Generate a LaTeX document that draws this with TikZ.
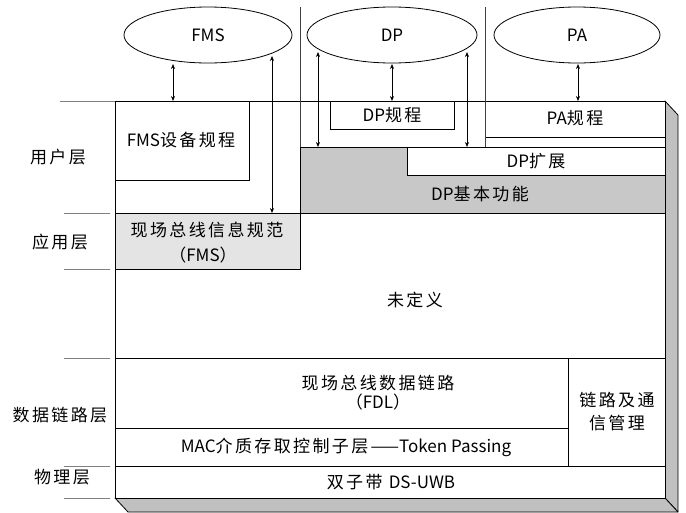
\documentclass[tikz,border=0pt]{standalone}
\usepackage{fontspec}
\setmainfont{Noto Sans CJK SC}[LetterSpace=14]
\newfontfamily\lat{Noto Sans CJK SC}
\usetikzlibrary{arrows.meta,shapes.geometric}
\definecolor{dpgray}{HTML}{C8C8C8}
\definecolor{specgray}{HTML}{E4E4E4}
\definecolor{sidegray}{HTML}{C0C0C0}
\definecolor{tickgray}{HTML}{808080}
\begin{document}
\begin{tikzpicture}[x=1pt,y=-1pt,
  box/.style={draw=black, line width=0.8pt, fill=white, anchor=north west, inner sep=0pt, outer sep=0pt},
  txt/.style={font=\fontsize{17}{22}\selectfont, text=black, inner sep=0pt, align=center},
  tick/.style={draw=tickgray, line width=0.9pt},
  vline/.style={draw=black!75, line width=0.8pt},
  arr/.style={{Stealth[length=5pt,width=4pt]}-{Stealth[length=5pt,width=4pt]}, line width=0.7pt},
  ell/.style={ellipse, draw=black, line width=0.8pt, inner sep=0pt, fill=white, font=\fontsize{17}{22}\selectfont\lat},
  face/.style={fill=sidegray, draw=black, line width=0.8pt, line join=round}]
\useasboundingbox (0,0) rectangle (686,512);

% left tick lines
\draw[tick] (60,101) -- (115,101);
\draw[tick] (64,213) -- (110,213);
\draw[tick] (64,269) -- (110,269);
\draw[tick] (64,358) -- (110,358);
\draw[tick] (64,466) -- (110,466);
\draw[tick] (64,498) -- (110,498);

% 3D faces
\draw[face] (665,101) -- (678,115) -- (678,512) -- (665,498) -- cycle;
\draw[face] (115,498) -- (665,498) -- (678,512) -- (128,512) -- cycle;

% front face and boxes
\node[box, minimum width=550pt, minimum height=397pt] (front) at (115,101) {};
\node[box, fill=dpgray, minimum width=365pt, minimum height=66pt] (dpbase) at (300,147) {};
\node[box, minimum width=258pt, minimum height=28pt] (dpext) at (407,147) {};
\node[box, minimum width=124pt, minimum height=28pt] (dpprof) at (330,101) {};
\node[box, minimum width=180pt, minimum height=36pt] (paprof) at (485,101) {};
\node[box, minimum width=134pt, minimum height=79pt] (fmsdev) at (115,101) {};
\node[box, fill=specgray, minimum width=185pt, minimum height=56pt] (fmsspec) at (115,213) {};
\node[box, minimum width=453pt, minimum height=70pt] (fdl) at (115,358) {};
\node[box, minimum width=453pt, minimum height=38pt] (mac) at (115,428) {};
\node[box, minimum width=97pt, minimum height=108pt] (linkm) at (568,358) {};
\node[box, minimum width=550pt, minimum height=32pt] (phys) at (115,466) {};

% vertical separators at the top
\coordinate (v1top) at (300,7);
\coordinate (v2top) at (485,7);
\draw[vline] (v1top) -- (dpbase.north west);
\draw[vline] (v2top) -- (v2top |- dpext.north);

% ellipses
\node[ell, minimum width=168pt, minimum height=56pt] (efms) at (208,35) {FMS};
\node[ell, minimum width=170pt, minimum height=56pt] (edp) at (392,35) {DP};
\node[ell, minimum width=166pt, minimum height=56pt] (epa) at (577,35) {PA};

% arrows
\coordinate (a1) at (173,64);
\coordinate (a2) at (272,56);
\coordinate (a3) at (318,52);
\coordinate (a4) at (392,64);
\coordinate (a5) at (467,52);
\coordinate (a6) at (578,64);
\draw[arr] (a1) -- (a1 |- fmsdev.north);
\draw[arr] (a2) -- (a2 |- fmsspec.north);
\draw[arr] (a3) -- (a3 |- dpbase.north);
\draw[arr] (a4) -- (a4 |- dpprof.north);
\draw[arr] (a5) -- (a5 |- dpext.north);
\draw[arr] (a6) -- (a6 |- paprof.north);

% texts in boxes
\node[txt] (t-fmsdev) at (181,140) {{\lat FMS}设备规程};
\node[txt] (t-dpprof) at (392,115) {{\lat DP}规程};
\node[txt] (t-paprof) at (575,118) {{\lat PA}规程};
\node[txt] (t-dpext) at (536,161) {{\lat DP}扩展};
\node[txt] (t-dpbase) at (480,194) {{\lat DP}基本功能};
\node[txt] (t-spec1) at (207,230) {现场总线信息规范};
\node[txt] (t-spec2) at (203,255) {（{\lat FMS}）};
\node[txt] (t-undef) at (415,300) {未定义};
\node[txt] (t-fdl1) at (378,383) {现场总线数据链路};
\node[txt] (t-fdl2) at (378,402) {（{\lat FDL}）};
\node[txt] (t-mac) at (346,447) {{\lat MAC}介质存取控制子层——{\lat Token Passing}};
\node[txt] (t-link1) at (617,400) {链路及通};
\node[txt] (t-link2) at (617,423) {信管理};
\node[txt] (t-phys) at (391,482) {双子带 {\lat DS-UWB}};

% layer labels
\node[txt] (l-user) at (58,157) {用户层};
\node[txt] (l-app) at (60,242) {应用层};
\node[txt] (l-dl) at (60,415) {数据链路层};
\node[txt] (l-phy) at (62,477) {物理层};
\end{tikzpicture}
\end{document}
